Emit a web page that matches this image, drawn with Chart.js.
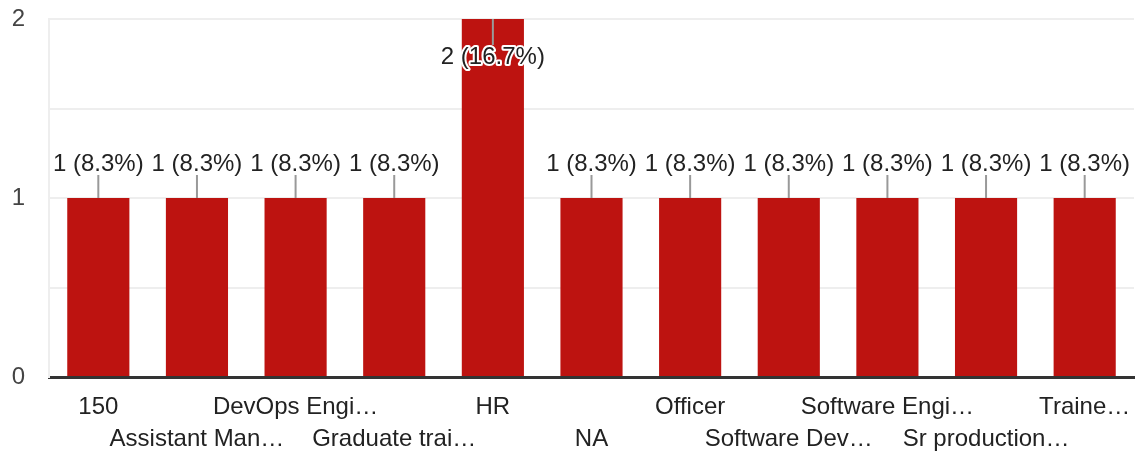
<!DOCTYPE html>
<html>
<head>
<meta charset="utf-8">
<script src="https://cdn.jsdelivr.net/npm/chart.js@4/dist/chart.umd.min.js"></script>
<style>
  html, body { margin: 0; padding: 0; background: #fff; }
  #wrap { width: 1136px; height: 455px; }
</style>
</head>
<body>
<div id="wrap"><canvas id="chartRespuestas"></canvas></div>
<script>
// datos del grafico
const categories = ["150", "Assistant Man…", "DevOps Engi…", "Graduate trai…", "HR", "NA",
  "Officer", "Software Dev…", "Software Engi…", "Sr production…", "Traine…"];
const counts = [1, 1, 1, 1, 2, 1, 1, 1, 1, 1, 1];
const yTicks = [0, 1, 2];

const total = counts.reduce((a, b) => a + b, 0);

// etiquetas "n (x%)" con su rayita gris
const valueLabels = {
  id: "valueLabels",
  afterDatasetsDraw(chart) {
    const ctx = chart.ctx;
    const meta = chart.getDatasetMeta(0);
    const top = chart.chartArea.top;
    ctx.save();
    ctx.font = "24px 'Liberation Sans', Arial, sans-serif";
    ctx.textAlign = "center";
    ctx.textBaseline = "middle";
    meta.data.forEach((bar, i) => {
      const v = counts[i];
      const txt = v + " (" + (v / total * 100).toFixed(1) + "%)";
      let lineA, lineB, ty, halo = false;
      if (bar.y - 40 > top) {
        lineA = bar.y - 23; lineB = bar.y; ty = bar.y - 34;
      } else {
        lineA = bar.y; lineB = bar.y + 26; ty = bar.y + 38; halo = true;
      }
      ctx.strokeStyle = "#999";
      ctx.lineWidth = 2;
      ctx.beginPath();
      ctx.moveTo(bar.x, lineA);
      ctx.lineTo(bar.x, lineB);
      ctx.stroke();
      if (halo) {
        ctx.strokeStyle = "#fff";
        ctx.lineWidth = 4;
        ctx.lineJoin = "round";
        ctx.strokeText(txt, bar.x, ty);
      }
      ctx.fillStyle = "#222";
      ctx.fillText(txt, bar.x, ty);
    });
    ctx.restore();
  }
};

new Chart(document.getElementById("chartRespuestas"), {
  type: "bar",
  data: {
    labels: categories,
    datasets: [{
      data: counts,
      backgroundColor: "#bd1310",
      barPercentage: 0.7,
      categoryPercentage: 0.9
    }]
  },
  options: {
    responsive: true,
    maintainAspectRatio: false,
    animation: false,
    layout: { padding: { top: 19, right: 2, left: 0, bottom: 0 } },
    plugins: {
      legend: { display: false },
      tooltip: { enabled: false }
    },
    scales: {
      x: {
        grid: { display: false },
        border: { color: "#333", width: 3 },
        ticks: {
          autoSkip: false,
          maxRotation: 0,
          minRotation: 0,
          padding: 6,
          color: "#222",
          font: { family: "'Liberation Sans', Arial, sans-serif", size: 24, lineHeight: 1.33 },
          callback: (val, i) => i % 2 === 0 ? categories[i] : ["", categories[i]]
        },
        afterFit: (scale) => {
          scale.height = 78;
          scale.paddingLeft = 0;
          scale.paddingRight = 0;
        }
      },
      y: {
        min: 0,
        max: 2,
        ticks: {
          stepSize: 0.5,
          padding: 24,
          color: "#444",
          font: { family: "'Liberation Sans', Arial, sans-serif", size: 24 },
          callback: (v) => yTicks.includes(v) ? v : ""
        },
        grid: { color: "#eeeeee", lineWidth: 2, drawTicks: false },
        border: { color: "#eeeeee", width: 2 },
        afterFit: (scale) => {
          scale.width = 49;
          scale.paddingTop = 0;
          scale.paddingBottom = 0;
        }
      }
    }
  },
  plugins: [valueLabels]
});
</script>
</body>
</html>
